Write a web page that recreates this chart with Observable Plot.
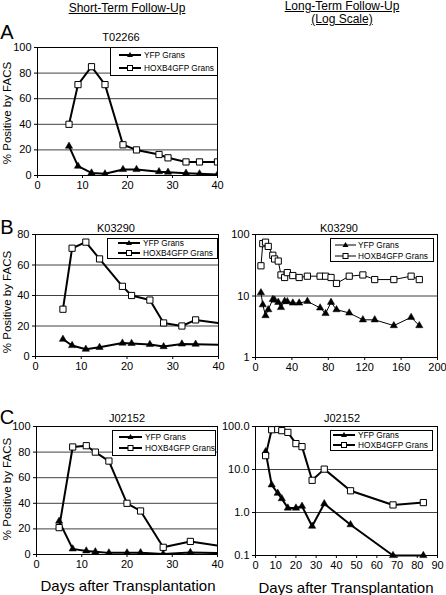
<!DOCTYPE html>
<html><head><meta charset="utf-8">
<script src="https://cdn.jsdelivr.net/npm/d3@7"></script>
<script src="https://cdn.jsdelivr.net/npm/@observablehq/plot@0.6"></script>
<style>
body{margin:0;background:#fff;}
#root{position:relative;width:446px;height:595px;font-family:"Liberation Sans",Arial,sans-serif;color:#000;overflow:hidden;background:#fff;}
.t{position:absolute;white-space:nowrap;line-height:1;transform:translate(-50%,-50%);}
</style>
</head><body><div id="root"></div>
<script>
// ---------- data ----------
const seriesNames = ["YFP Grans", "HOXB4GFP Grans"];
const panelTitles = ["T02266", "K03290", "K03290", "J02152", "J02152"];

// Panel A (T02266), short-term
const daysA = [7, 9, 12, 15, 19, 22, 27, 29, 33, 36, 40];
const yfpA  = [22.9, 7.3, 2, 1.3, 4.7, 4.7, 3, 2.6, 1.8, 1.3, 0.8];
const hoxA  = [40, 71, 85, 71, 24, 20, 16.4, 13.8, 10.6, 10.6, 10.6];

// Panel B (K03290)
const daysB = [6, 8, 11, 14, 19, 21, 25, 28, 32, 35, 41, 48, 57, 71, 77, 83, 89, 103, 118, 131, 152, 171, 180];
const yfpB  = [11.3, 7.2, 4.8, 6, 8.8, 8.6, 7.9, 6.5, 8.2, 8.1, 7.7, 7.7, 8.2, 6.4, 5.2, 7.9, 6, 5.3, 4.1, 4.1, 3.3, 4.5, 3.3];
const hoxB  = [31, 71, 75, 64, 46, 40, 37, 22, 20, 24, 21.5, 20, 21, 21, 21, 20, 16, 21, 22, 18.5, 18.5, 21, 18.5];

// Panel C (J02152)
const daysC = [5, 8, 11, 13, 16, 20, 23, 28, 34, 47, 68, 83];
const yfpC  = [26, 4.4, 2.8, 2.1, 1.27, 1.27, 1.4, 0.48, 1.6, 0.52, 0.1, 0.1];
const hoxC  = [21, 84, 85, 80, 73, 40, 34, 5.6, 10.2, 3.2, 1.5, 1.7];

// tick labels
const xTicksShort = [0, 10, 20, 30, 40];
const yTicksA = [0, 20, 40, 60, 80, 100];
const yTicksB = [0, 20, 40, 60, 80];
const xTicksBLong = [0, 40, 80, 120, 160, 200];
const yTicksBLog = [1, 10, 100];
const xTicksCLong = [0, 10, 20, 30, 40, 50, 60, 70, 80, 90];
const yTicksCLog = [0.1, 1, 10, 100];

// ---------- drawing ----------
const root = document.getElementById("root");
const FONT = '"Liberation Sans", Arial, sans-serif';

function rows(days, vals) { return days.map((d, i) => ({day: d, v: vals[i]})); }

function panel(o) {
  const mL = 40, mR = 10, mT = 6, mB = 24;
  const w = (o.right - o.left) + mL + mR;
  const h = (o.bottom - o.top) + mT + mB;
  const yfp = rows(o.days, o.yfp), hox = rows(o.days, o.hox);
  const chart = Plot.plot({
    width: w, height: h,
    marginLeft: mL, marginRight: mR, marginTop: mT, marginBottom: mB,
    style: {fontFamily: FONT, fontSize: "11px", background: "transparent", overflow: "visible"},
    x: {domain: o.xDomain},
    y: {type: o.yType || "linear", domain: o.yDomain},
    marks: [
      Plot.gridY(o.grid, {stroke: "#404040", strokeOpacity: 1, strokeWidth: 1}),
      Plot.frame({stroke: "#000", strokeWidth: 1}),
      Plot.axisX(o.xTicks, {tickSize: 3, tickPadding: 3, label: null, fontSize: 11}),
      Plot.axisY(o.yTicks, {tickSize: 3, tickPadding: 3, label: null, fontSize: 11, tickFormat: o.fmt}),
      Plot.line(yfp, {x: "day", y: "v", stroke: "#000", strokeWidth: o.lw, clip: o.clip}),
      Plot.line(hox, {x: "day", y: "v", stroke: "#000", strokeWidth: o.lw, clip: o.clip}),
      Plot.dot(yfp, {x: "day", y: "v", symbol: "triangle", fill: "#000", stroke: "#000", strokeWidth: 0.5, r: 2.7, clip: o.clip}),
      Plot.dot(hox, {x: "day", y: "v", symbol: "square", fill: "#fff", stroke: "#000", strokeWidth: 1, r: 3.5, clip: o.clip})
    ]
  });
  chart.style.position = "absolute";
  chart.style.left = (o.left - mL) + "px";
  chart.style.top = (o.top - mT) + "px";
  root.appendChild(chart);
}

function text(str, x, y, size, extra) {
  const d = document.createElement("div");
  d.className = "t";
  d.textContent = str;
  d.style.left = x + "px";
  d.style.top = y + "px";
  d.style.fontSize = size + "px";
  if (extra) Object.assign(d.style, extra);
  root.appendChild(d);
}

function legend(x0, y0, x1, y1, sx1, sx2, tx, r1, r2, lw) {
  const svg = d3.create("svg").attr("width", 446).attr("height", 595)
    .style("position", "absolute").style("left", 0).style("top", 0).style("pointer-events", "none");
  svg.append("rect").attr("x", x0 + 0.5).attr("y", y0 + 0.5).attr("width", x1 - x0).attr("height", y1 - y0)
    .attr("fill", "#fff").attr("stroke", "#000").attr("stroke-width", 1);
  [r1, r2].forEach((ry, i) => {
    svg.append("line").attr("x1", sx1).attr("x2", sx2).attr("y1", ry).attr("y2", ry)
      .attr("stroke", "#000").attr("stroke-width", lw);
    const cx = (sx1 + sx2) / 2;
    if (i === 0) {
      svg.append("path").attr("d", `M${cx},${ry - 3}L${cx + 3},${ry + 2}L${cx - 3},${ry + 2}Z`).attr("fill", "#000");
    } else {
      svg.append("rect").attr("x", cx - 2.5).attr("y", ry - 2.5).attr("width", 5).attr("height", 5)
        .attr("fill", "#fff").attr("stroke", "#000");
    }
    svg.append("text").attr("x", tx).attr("y", ry).attr("dy", "0.35em")
      .attr("font-family", FONT).attr("font-size", 8.3).text(seriesNames[i]);
  });
  root.appendChild(svg.node());
}

// Panel A
panel({left: 37, right: 217, top: 47, bottom: 175, xDomain: [0, 40], xTicks: xTicksShort,
  yDomain: [0, 100], yTicks: yTicksA, grid: yTicksA, days: daysA, yfp: yfpA, hox: hoxA, lw: 2, clip: true});
// Panel B short
panel({left: 35, right: 218, top: 234, bottom: 356, xDomain: [0, 40], xTicks: xTicksShort,
  yDomain: [0, 80], yTicks: yTicksB, grid: yTicksB, days: daysB, yfp: yfpB, hox: hoxB, lw: 2, clip: true});
// Panel B long (log)
panel({left: 255, right: 437, top: 234, bottom: 357, xDomain: [0, 200], xTicks: xTicksBLong,
  yType: "log", yDomain: [1, 100], yTicks: yTicksBLog, fmt: d => String(d), grid: yTicksBLog,
  days: daysB, yfp: yfpB, hox: hoxB, lw: 1, clip: true});
// Panel C short
panel({left: 36, right: 217, top: 426, bottom: 554, xDomain: [0, 40], xTicks: xTicksShort,
  yDomain: [0, 100], yTicks: yTicksA, grid: yTicksA, days: daysC, yfp: yfpC, hox: hoxC, lw: 2, clip: true});
// Panel C long (log)
panel({left: 255, right: 437, top: 426, bottom: 555, xDomain: [0, 90], xTicks: xTicksCLong,
  yType: "log", yDomain: [0.1, 100], yTicks: yTicksCLog, fmt: d => d.toFixed(1), grid: yTicksCLog,
  days: daysC, yfp: yfpC, hox: hoxC, lw: 2, clip: false});

// legends
legend(110, 47, 217, 75, 119, 141, 144, 55, 68, 2);
legend(107, 238, 217, 258, 118, 140, 143, 243, 253, 2);
legend(330, 238, 433, 261, 335, 356, 358, 245, 256, 1);
legend(112, 430, 215, 455, 119, 142, 145, 437, 448, 2);
legend(330, 430, 432, 450, 333, 355, 358, 435, 445, 2);

// titles
text(panelTitles[0], 121, 37, 11);
text(panelTitles[1], 116, 228, 11);
text(panelTitles[2], 339, 228, 11);
text(panelTitles[3], 127, 418, 11);
text(panelTitles[4], 342, 418, 11);

// headers
text("Short-Term Follow-Up", 127, 8, 12, {textDecoration: "underline"});
text("Long-Term Follow-Up", 342, 6, 12, {textDecoration: "underline"});
text("(Log Scale)", 342, 19, 12, {textDecoration: "underline"});

// panel letters
text("A", 7, 32, 20);
text("B", 7, 227, 20);
text("C", 7, 417, 20);

// y labels
[113, 302, 489].forEach(cy => text("% Positive by FACS", 8, cy, 11.5, {transform: "translate(-50%,-50%) rotate(-90deg)"}));

// x labels
text("Days after Transplantation", 128, 585, 15);
text("Days after Transplantation", 346, 587, 15);
</script>
</body></html>
